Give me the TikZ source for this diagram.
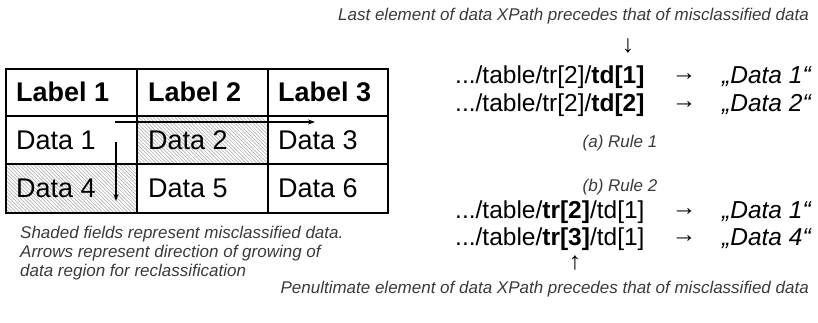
\documentclass[tikz,border=0pt]{standalone}
\usepackage{fontspec}
\setmainfont{Liberation Sans}
\usetikzlibrary{arrows.meta}
\definecolor{capgray}{HTML}{3A3A3A}
\definecolor{hatchgray}{HTML}{B4B4B4}
\begin{document}
\begin{tikzpicture}[x=1pt,y=-1pt,
  tcell/.style={anchor=west,inner sep=0pt,font=\fontsize{27}{30}\selectfont},
  thead/.style={tcell,font=\fontsize{27}{30}\selectfont\bfseries},
  captext/.style={anchor=west,inner sep=0pt,align=left,text=capgray,font=\fontsize{17}{19}\selectfont\itshape},
  notetext/.style={inner sep=0pt,text=capgray,font=\fontsize{17}{19}\selectfont\itshape},
  xpathtext/.style={anchor=west,inner sep=0pt,font=\fontsize{24.5}{28}\selectfont},
  arrtext/.style={inner sep=0pt,font=\fontsize{24.5}{28}\selectfont},
  valtext/.style={anchor=west,inner sep=0pt,font=\fontsize{24.5}{28}\selectfont\itshape},
  growarrow/.style={-{Stealth[length=7pt,width=5pt]},line width=1.2pt},
  hatchline/.style={draw=hatchgray,line width=0.7pt}]
\useasboundingbox (0,0) rectangle (818,322);
% table shading (hatched cells)
\begin{scope}
  \clip (137,116) rectangle (268,164);
  \foreach \i in {0,...,50} {\draw[hatchline] (80+3.6*\i,116) -- ++(48,48);}
\end{scope}
\begin{scope}
  \clip (6,164) rectangle (137,213);
  \foreach \i in {0,...,52} {\draw[hatchline] (-50+3.6*\i,164) -- ++(49,49);}
\end{scope}
% grid
\draw[line width=1.3pt] (137,69) -- (137,213) (268,69) -- (268,213)
  (6,116) -- (388,116) (6,164) -- (388,164);
\draw[line width=2pt] (6,69) rectangle (388,213);
% cells
\node[thead] (l1) at (16,92) {Label 1};
\node[thead] (l2) at (148,92) {Label 2};
\node[thead] (l3) at (278,92) {Label 3};
\node[tcell] (d1) at (16,140) {Data 1};
\node[tcell] (d2) at (148,140) {Data 2};
\node[tcell] (d3) at (278,140) {Data 3};
\node[tcell] (d4) at (16,188) {Data 4};
\node[tcell] (d5) at (148,188) {Data 5};
\node[tcell] (d6) at (278,188) {Data 6};
% growth arrows
\coordinate (hs) at (115,122);
\coordinate (he) at (315,122);
\coordinate (vs) at (116,142);
\coordinate (ve) at (116,201);
\draw[growarrow] (hs) -- (he);
\draw[growarrow] (vs) -- (ve);
% caption
\node[captext] (caption) at (20,253) {Shaded fields represent misclassified data.\\Arrows represent direction of growing of\\data region for reclassification};
% rule 1
\node[notetext,anchor=east] (top) at (809,16) {Last element of data XPath precedes that of misclassified data};
\node[arrtext] (down) at (628,46) {↓};
\node[xpathtext] (p1) at (455,77) {.../table/tr[2]/\textbf{td[1]}};
\node[arrtext] (a1) at (684,77) {→};
\node[valtext] (v1) at (722,77) {„Data 1“};
\node[xpathtext] (p2) at (455,105) {.../table/tr[2]/\textbf{td[2]}};
\node[arrtext] (a2) at (684,105) {→};
\node[valtext] (v2) at (722,105) {„Data 2“};
\node[notetext] (ra) at (620,143) {(a) Rule 1};
% rule 2
\node[notetext] (rb) at (620,187) {(b) Rule 2};
\node[xpathtext] (p3) at (455,212) {.../table/\textbf{tr[2]}/td[1]};
\node[arrtext] (a3) at (684,212) {→};
\node[valtext] (v3) at (722,212) {„Data 1“};
\node[xpathtext] (p4) at (455,239) {.../table/\textbf{tr[3]}/td[1]};
\node[arrtext] (a4) at (684,239) {→};
\node[valtext] (v4) at (722,239) {„Data 4“};
\node[arrtext] (up) at (575,263) {↑};
\node[notetext,anchor=east] (bottom) at (809,289) {Penultimate element of data XPath precedes that of misclassified data};
\end{tikzpicture}
\end{document}
